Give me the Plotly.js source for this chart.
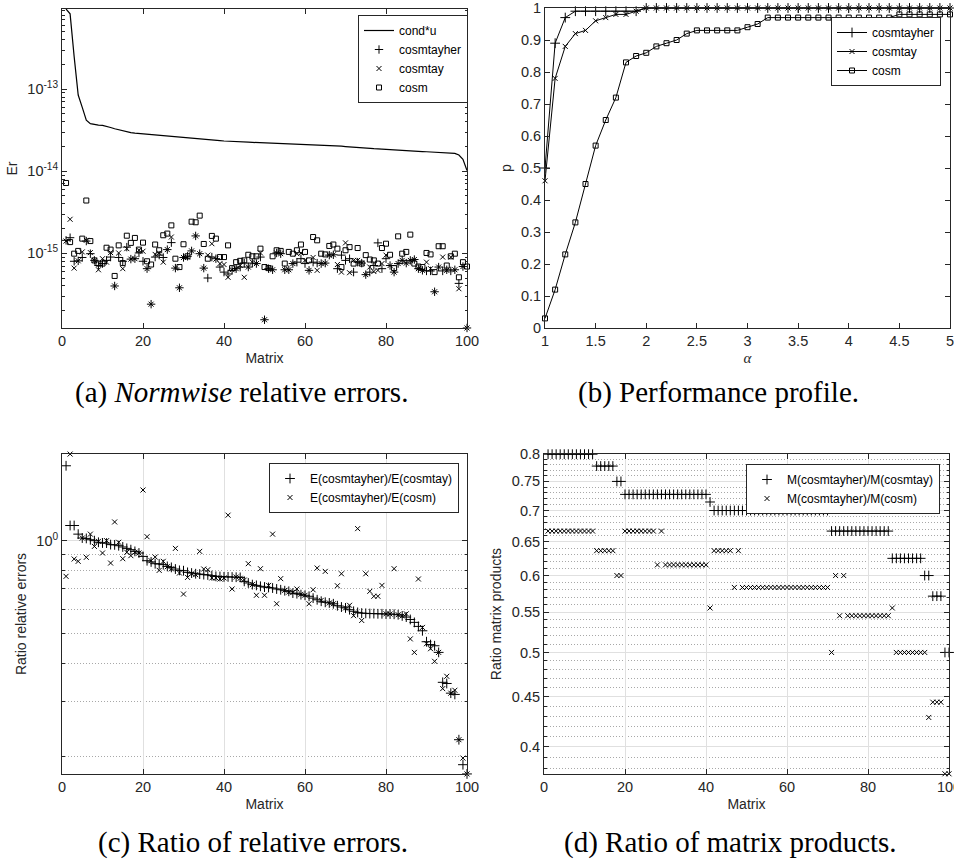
<!DOCTYPE html>
<html><head><meta charset="utf-8">
<script src="https://cdn.plot.ly/plotly-3.0.1.min.js"></script>
<style>html,body{margin:0;padding:0;background:#fff}#chart{width:954px;height:861px}</style>
</head><body><div id="chart"></div>
<script>
// ---------- DATA ----------
const matrixIndex = Array.from({length: 100}, (_, i) => i + 1);

// (a) Normwise relative errors
const condU = [9.5e-13,8.3e-13,2.5e-13,8.5e-14,6.0e-14,4.2e-14,3.8e-14,3.7e-14,3.66e-14,3.62e-14,
3.55e-14,3.42e-14,3.3e-14,3.2e-14,3.1e-14,3.02e-14,2.96e-14,2.92e-14,2.89e-14,2.86e-14,
2.84e-14,2.81e-14,2.77e-14,2.72e-14,2.68e-14,2.65e-14,2.62e-14,2.6e-14,2.57e-14,2.55e-14,
2.53e-14,2.5e-14,2.48e-14,2.46e-14,2.44e-14,2.42e-14,2.4e-14,2.38e-14,2.36e-14,2.34e-14,
2.32e-14,2.31e-14,2.3e-14,2.29e-14,2.28e-14,2.26e-14,2.25e-14,2.24e-14,2.23e-14,2.22e-14,
2.21e-14,2.2e-14,2.19e-14,2.18e-14,2.17e-14,2.16e-14,2.15e-14,2.14e-14,2.13e-14,2.12e-14,
2.12e-14,2.11e-14,2.1e-14,2.1e-14,2.09e-14,2.08e-14,2.06e-14,2.04e-14,2.02e-14,2.0e-14,
1.99e-14,1.97e-14,1.95e-14,1.94e-14,1.92e-14,1.91e-14,1.89e-14,1.88e-14,1.86e-14,1.85e-14,
1.83e-14,1.82e-14,1.81e-14,1.8e-14,1.79e-14,1.77e-14,1.76e-14,1.75e-14,1.74e-14,1.73e-14,
1.72e-14,1.71e-14,1.7e-14,1.69e-14,1.68e-14,1.67e-14,1.65e-14,1.58e-14,1.4e-14,1.02e-14];

const errCosmtayher = [1.44e-15,1.55e-15,0.80e-15,0.81e-15,0.89e-15,1.41e-15,0.99e-15,0.82e-15,0.71e-15,0.75e-15,
0.82e-15,0.90e-15,0.40e-15,0.89e-15,0.80e-15,1.19e-15,0.85e-15,0.86e-15,1.01e-15,0.80e-15,
0.65e-15,0.24e-15,0.90e-15,0.95e-15,0.89e-15,1.11e-15,1.35e-15,0.66e-15,0.38e-15,0.89e-15,
0.92e-15,1.07e-15,1.63e-15,0.99e-15,0.66e-15,0.50e-15,0.90e-15,0.86e-15,0.68e-15,0.59e-15,
0.56e-15,0.62e-15,0.65e-15,0.68e-15,0.76e-15,0.68e-15,0.76e-15,0.75e-15,0.90e-15,0.155e-15,
0.65e-15,0.63e-15,1.01e-15,0.99e-15,0.63e-15,0.63e-15,0.75e-15,0.78e-15,0.86e-15,0.75e-15,
0.62e-15,0.78e-15,0.76e-15,0.75e-15,0.76e-15,0.95e-15,0.96e-15,0.65e-15,0.95e-15,0.82e-15,
0.86e-15,0.59e-15,0.78e-15,0.76e-15,0.55e-15,0.59e-15,0.71e-15,1.34e-15,0.65e-15,0.86e-15,
0.71e-15,0.59e-15,0.75e-15,0.82e-15,0.76e-15,0.82e-15,0.84e-15,0.65e-15,0.62e-15,0.61e-15,
0.61e-15,0.34e-15,0.68e-15,0.61e-15,0.63e-15,0.61e-15,0.63e-15,0.43e-15,0.69e-15,0.123e-15];

const errCosmtay = [1.41e-15,2.6e-15,0.66e-15,0.81e-15,1.04e-15,1.44e-15,1.02e-15,0.82e-15,0.63e-15,0.86e-15,
0.78e-15,1.02e-15,0.40e-15,1.01e-15,0.65e-15,1.14e-15,0.85e-15,0.86e-15,1.09e-15,1.06e-15,
0.65e-15,0.24e-15,0.97e-15,1.01e-15,0.78e-15,1.11e-15,1.58e-15,0.66e-15,0.38e-15,0.89e-15,
0.90e-15,1.07e-15,1.63e-15,0.99e-15,0.66e-15,0.95e-15,1.31e-15,0.85e-15,0.75e-15,0.73e-15,
0.51e-15,0.63e-15,0.65e-15,0.71e-15,0.51e-15,0.68e-15,0.78e-15,0.75e-15,1.01e-15,0.155e-15,
0.66e-15,0.63e-15,1.01e-15,0.99e-15,0.63e-15,0.63e-15,0.75e-15,0.99e-15,1.01e-15,0.82e-15,
0.62e-15,0.89e-15,0.62e-15,0.75e-15,0.76e-15,0.95e-15,0.96e-15,0.73e-15,0.59e-15,1.34e-15,
0.58e-15,0.82e-15,0.82e-15,0.76e-15,0.55e-15,0.68e-15,0.60e-15,0.62e-15,0.75e-15,0.95e-15,
0.71e-15,0.59e-15,0.75e-15,0.82e-15,0.76e-15,0.82e-15,0.84e-15,0.65e-15,0.62e-15,0.78e-15,
0.65e-15,0.34e-15,0.68e-15,0.90e-15,0.62e-15,0.90e-15,0.63e-15,0.37e-15,0.69e-15,0.123e-15];

const errCosm = [7.2e-15,1.37e-15,0.99e-15,1.07e-15,1.51e-15,4.4e-15,1.41e-15,0.82e-15,0.75e-15,0.75e-15,
1.17e-15,1.11e-15,0.53e-15,1.25e-15,0.76e-15,1.64e-15,1.34e-15,1.54e-15,1.11e-15,1.35e-15,
0.80e-15,0.73e-15,1.28e-15,1.09e-15,1.66e-15,1.74e-15,2.19e-15,0.86e-15,0.68e-15,1.29e-15,
0.92e-15,2.43e-15,2.39e-15,2.88e-15,1.30e-15,0.86e-15,1.63e-15,1.51e-15,0.90e-15,0.90e-15,
1.25e-15,0.66e-15,0.78e-15,0.81e-15,0.82e-15,0.96e-15,0.92e-15,0.92e-15,1.14e-15,0.68e-15,
0.66e-15,0.92e-15,1.09e-15,1.07e-15,0.75e-15,1.04e-15,0.99e-15,1.09e-15,1.28e-15,1.04e-15,
0.82e-15,1.58e-15,1.44e-15,0.99e-15,0.97e-15,1.23e-15,1.28e-15,1.14e-15,0.68e-15,1.09e-15,
1.19e-15,0.75e-15,1.16e-15,0.75e-15,0.95e-15,0.84e-15,0.82e-15,0.75e-15,1.16e-15,1.31e-15,
0.96e-15,0.66e-15,1.61e-15,0.99e-15,1.04e-15,1.69e-15,0.75e-15,0.69e-15,0.68e-15,1.01e-15,
0.97e-15,0.59e-15,1.22e-15,1.22e-15,0.71e-15,0.92e-15,0.99e-15,0.51e-15,0.78e-15,0.69e-15];

// (b) Performance profile
const alphaVals = [1.0,1.1,1.2,1.3,1.4,1.5,1.6,1.7,1.8,1.9,2.0,2.1,2.2,2.3,2.4,2.5,2.6,2.7,2.8,2.9,
3.0,3.1,3.2,3.3,3.4,3.5,3.6,3.7,3.8,3.9,4.0,4.1,4.2,4.3,4.4,4.5,4.6,4.7,4.8,4.9,5.0];
const pCosmtayher = [0.50,0.89,0.97,0.99,0.99,0.99,0.99,0.99,0.99,0.99,1,1,1,1,1,1,1,1,1,1,
1,1,1,1,1,1,1,1,1,1,1,1,1,1,1,1,1,1,1,1,1];
const pCosmtay = [0.46,0.78,0.88,0.92,0.93,0.96,0.97,0.98,0.98,0.99,1,1,1,1,1,1,1,1,1,1,
1,1,1,1,1,1,1,1,1,1,1,1,1,1,1,1,1,1,1,1,1];
const pCosm = [0.03,0.12,0.23,0.33,0.45,0.57,0.65,0.72,0.83,0.85,0.86,0.88,0.89,0.90,0.92,0.93,0.93,0.93,0.93,0.93,
0.94,0.95,0.97,0.97,0.97,0.97,0.97,0.97,0.97,0.97,0.97,0.97,0.97,0.97,0.97,0.98,0.98,0.98,0.98,0.98,0.98];

// (c) Ratio of relative errors
const ratioErrTay = [1.75,1.12,1.12,1.05,1.02,1.017,1.007,1.0,0.988,0.983,
0.982,0.971,0.969,0.963,0.954,0.944,0.935,0.923,0.912,0.889,
0.861,0.853,0.842,0.840,0.836,0.825,0.819,0.809,0.801,0.799,
0.789,0.785,0.781,0.779,0.776,0.774,0.770,0.766,0.765,0.763,
0.763,0.762,0.761,0.760,0.738,0.729,0.720,0.716,0.711,0.707,
0.705,0.702,0.697,0.693,0.688,0.685,0.676,0.673,0.668,0.665,
0.660,0.651,0.643,0.636,0.631,0.628,0.624,0.615,0.609,0.605,
0.597,0.590,0.585,0.582,0.581,0.580,0.580,0.579,0.579,0.578,
0.578,0.577,0.575,0.570,0.565,0.555,0.543,0.527,0.510,0.470,
0.460,0.456,0.434,0.347,0.344,0.320,0.317,0.226,0.1875,0.175];
const ratioErrCosm = [0.766,1.91,0.872,0.857,1.02,0.883,1.05,0.958,0.995,0.912,
1.0,0.846,1.15,0.988,0.874,0.917,0.894,0.917,0.912,1.46,
1.03,0.861,0.885,0.801,0.857,0.823,0.81,0.944,0.785,0.671,
0.760,0.781,0.776,0.923,0.809,0.805,0.757,0.757,0.751,0.757,
1.21,0.697,0.762,0.755,0.745,0.842,0.72,0.665,0.811,0.665,
0.716,1.05,0.624,0.753,0.69,0.681,0.68,0.697,0.67,0.665,
0.624,0.693,0.815,0.64,0.795,0.628,0.624,0.714,0.781,0.605,
0.617,0.571,1.094,0.551,0.781,0.685,0.660,0.660,0.716,0.579,
0.578,0.811,0.575,0.57,0.579,0.480,0.434,0.751,0.523,0.463,
0.446,0.406,0.434,0.331,0.363,0.320,0.327,0.226,0.197,0.175];

// (d) Ratio of matrix products
const ratioMTay = [0.8,0.8,0.8,0.8,0.8,0.8,0.8,0.8,0.8,0.8,0.8,0.8,
0.7778,0.7778,0.7778,0.7778,0.7778,0.75,0.75,
0.7273,0.7273,0.7273,0.7273,0.7273,0.7273,0.7273,0.7273,0.7273,0.7273,0.7273,0.7273,0.7273,0.7273,0.7273,0.7273,0.7273,0.7273,0.7273,0.7273,0.7273,
0.7143,
0.7,0.7,0.7,0.7,0.7,0.7,0.7,0.7,0.7,0.7,0.7,0.7,0.7,0.7,0.7,0.7,0.7,0.7,0.7,0.7,0.7,0.7,0.7,0.7,0.7,0.7,0.7,0.7,0.7,
0.6667,0.6667,0.6667,0.6667,0.6667,0.6667,0.6667,0.6667,0.6667,0.6667,0.6667,0.6667,0.6667,0.6667,0.6667,
0.625,0.625,0.625,0.625,0.625,0.625,0.625,0.625,
0.6,0.6,0.5714,0.5714,0.5714,0.5,0.5];
const ratioMCosm = [0.6667,0.6667,0.6667,0.6667,0.6667,0.6667,0.6667,0.6667,0.6667,0.6667,0.6667,0.6667,
0.6364,0.6364,0.6364,0.6364,0.6364,0.6,0.6,
0.6667,0.6667,0.6667,0.6667,0.6667,0.6667,0.6667,0.6667,0.6154,0.6667,
0.6154,0.6154,0.6154,0.6154,0.6154,0.6154,0.6154,0.6154,0.6154,0.6154,0.6154,
0.5556,0.6364,0.6364,0.6364,0.6364,0.6364,0.5833,0.6364,
0.5833,0.5833,0.5833,0.5833,0.5833,0.5833,0.5833,0.5833,0.5833,0.5833,0.5833,0.5833,0.5833,0.5833,0.5833,0.5833,0.5833,0.5833,0.5833,0.5833,0.5833,0.5833,
0.5,0.6,0.5455,0.6,
0.5455,0.5455,0.5455,0.5455,0.5455,0.5455,0.5455,0.5455,0.5455,0.5455,0.5455,
0.5556,0.5,0.5,0.5,0.5,0.5,0.5,0.5,0.5,
0.4286,0.4444,0.4444,0.4444,0.375,0.375];

// ---------- STYLE ----------
const W = 954, H = 861;
const px2x = p => p / W;
const py2y = p => 1 - p / H;
const SANS = 'Liberation Sans, Arial, Helvetica, sans-serif';
const SERIF = 'Liberation Serif, Times New Roman, serif';
const AX = '#262626';
const tickFont = {family: SANS, size: 14.5, color: AX};
const titleFont = {family: SANS, size: 14, color: AX};
const EPS = 2e-4;

function baseAxis(extra) {
  return Object.assign({
    showline: true, linecolor: AX, linewidth: 1, mirror: 'ticks',
    ticks: 'inside', ticklen: 5, tickcolor: AX, tickwidth: 1,
    tickfont: tickFont, zeroline: false, showgrid: false, fixedrange: true,
    ticklabeloverflow: 'allow'
  }, extra);
}
function logMinor(lo, hi) {
  const out = [];
  for (let e = lo; e <= hi; e++) for (let m = 2; m <= 9; m++) out.push(m * Math.pow(10, e));
  return out;
}
function logRange(vals) {
  return [Math.log10(Math.min(...vals)) - EPS, Math.log10(Math.max(...vals)) + EPS];
}

const plusM = (sz) => ({symbol: 'cross-thin', size: sz, color: '#000', line: {width: 1, color: '#000'}});
const xM = (sz) => ({symbol: 'x-thin', size: sz, color: '#000', line: {width: 1, color: '#000'}});
const sqM = (sz) => ({symbol: 'square-open', size: sz, color: '#000', line: {width: 1, color: '#000'}});

const traces = [
  // (a)
  {x: matrixIndex, y: condU, type: 'scatter', mode: 'lines', name: 'cond*u', line: {color: '#000', width: 1.2},
   xaxis: 'x', yaxis: 'y', legend: 'legend', cliponaxis: false},
  {x: matrixIndex, y: errCosmtayher, type: 'scatter', mode: 'markers', name: 'cosmtayher', marker: plusM(6),
   xaxis: 'x', yaxis: 'y', legend: 'legend', cliponaxis: false},
  {x: matrixIndex, y: errCosmtay, type: 'scatter', mode: 'markers', name: 'cosmtay', marker: xM(5),
   xaxis: 'x', yaxis: 'y', legend: 'legend', cliponaxis: false},
  {x: matrixIndex, y: errCosm, type: 'scatter', mode: 'markers', name: 'cosm', marker: sqM(5),
   xaxis: 'x', yaxis: 'y', legend: 'legend', cliponaxis: false},
  // (b)
  {x: alphaVals, y: pCosmtayher, type: 'scatter', mode: 'lines+markers', name: 'cosmtayher',
   line: {color: '#000', width: 1}, marker: plusM(7), xaxis: 'x2', yaxis: 'y2', legend: 'legend2', cliponaxis: false},
  {x: alphaVals, y: pCosmtay, type: 'scatter', mode: 'lines+markers', name: 'cosmtay',
   line: {color: '#000', width: 1}, marker: xM(5), xaxis: 'x2', yaxis: 'y2', legend: 'legend2', cliponaxis: false},
  {x: alphaVals, y: pCosm, type: 'scatter', mode: 'lines+markers', name: 'cosm',
   line: {color: '#000', width: 1}, marker: sqM(5), xaxis: 'x2', yaxis: 'y2', legend: 'legend2', cliponaxis: false},
  // (c)
  {x: matrixIndex, y: ratioErrTay, type: 'scatter', mode: 'markers', name: 'E(cosmtayher)/E(cosmtay)',
   marker: plusM(7), xaxis: 'x3', yaxis: 'y3', legend: 'legend3', cliponaxis: false},
  {x: matrixIndex, y: ratioErrCosm, type: 'scatter', mode: 'markers', name: 'E(cosmtayher)/E(cosm)',
   marker: xM(5), xaxis: 'x3', yaxis: 'y3', legend: 'legend3', cliponaxis: false},
  // (d)
  {x: matrixIndex, y: ratioMTay, type: 'scatter', mode: 'markers', name: 'M(cosmtayher)/M(cosmtay)',
   marker: plusM(7), xaxis: 'x4', yaxis: 'y4', legend: 'legend4', cliponaxis: false},
  {x: matrixIndex, y: ratioMCosm, type: 'scatter', mode: 'markers', name: 'M(cosmtayher)/M(cosm)',
   marker: xM(5), xaxis: 'x4', yaxis: 'y4', legend: 'legend4', cliponaxis: false}
];

function legendBox(rightPx, topPx) {
  return {x: px2x(rightPx), y: py2y(topPx), xanchor: 'right', yanchor: 'top',
    bgcolor: '#ffffff', bordercolor: AX, borderwidth: 1,
    font: {family: SANS, size: 12, color: '#000'}, itemwidth: 30, tracegroupgap: 0};
}

const minorC = [0.2,0.3,0.4,0.5,0.6,0.7,0.8,0.9];
const majorD = [0.4,0.45,0.5,0.55,0.6,0.65,0.7,0.75,0.8];
const minorD = [];
for (let k = 38; k <= 79; k++) { if (k % 5 !== 0) minorD.push(k / 100); }

const domA = {x: [px2x(62), px2x(467)], y: [py2y(328), py2y(9)]};
const domB = {x: [px2x(545), px2x(950)], y: [py2y(328), py2y(8)]};
const domC = {x: [px2x(62), px2x(467)], y: [py2y(774), py2y(454)]};
const domD = {x: [px2x(544), px2x(949)], y: [py2y(774), py2y(454)]};

const rangeA = [Math.log10(Math.min(...errCosmtayher, ...errCosmtay, ...errCosm)) - EPS,
                Math.log10(Math.max(...condU)) + EPS];

const dotGrid = {showgrid: true, gridcolor: '#a8a8a8', gridwidth: 1, griddash: '1px,2px'};

const layout = {
  width: W, height: H, margin: {l: 0, r: 0, t: 0, b: 0},
  paper_bgcolor: '#fff', plot_bgcolor: '#fff',
  font: {family: SANS, color: AX},
  legend: legendBox(468, 15),
  legend2: legendBox(941, 17),
  legend3: legendBox(459, 463),
  legend4: legendBox(940, 464),
  xaxis: baseAxis({domain: domA.x, anchor: 'y', range: [0, 100], tickmode: 'linear', tick0: 0, dtick: 20,
    title: {text: 'Matrix', font: titleFont, standoff: 4}}),
  yaxis: baseAxis({domain: domA.y, anchor: 'x', type: 'log', range: rangeA,
    tickmode: 'array', tickvals: [1e-15, 1e-14, 1e-13],
    ticktext: ['10<sup>-15</sup>', '10<sup>-14</sup>', '10<sup>-13</sup>'],
    minor: {tickmode: 'array', tickvals: logMinor(-16, -13), ticks: 'inside', ticklen: 2.5, tickcolor: AX, showgrid: false},
    title: {text: 'Er', font: titleFont, standoff: 6}}),
  xaxis2: baseAxis({domain: domB.x, anchor: 'y2', range: [1, 5], tickmode: 'linear', tick0: 1, dtick: 0.5,
    title: {text: '<i>α</i>', font: {family: SERIF, size: 15, color: AX}, standoff: 4}}),
  yaxis2: baseAxis({domain: domB.y, anchor: 'x2', range: [0, 1], tickmode: 'linear', tick0: 0, dtick: 0.1,
    title: {text: 'p', font: titleFont, standoff: 6}}),
  xaxis3: baseAxis({domain: domC.x, anchor: 'y3', range: [0, 100], tickmode: 'linear', tick0: 0, dtick: 20,
    showgrid: true, gridcolor: '#e0e0e0', gridwidth: 1,
    title: {text: 'Matrix', font: titleFont, standoff: 4}}),
  yaxis3: baseAxis({domain: domC.y, anchor: 'x3', type: 'log',
    range: logRange([...ratioErrTay, ...ratioErrCosm]),
    tickmode: 'array', tickvals: [1], ticktext: ['10<sup>0</sup>'],
    showgrid: true, gridcolor: '#e0e0e0', gridwidth: 1,
    minor: Object.assign({tickmode: 'array', tickvals: minorC, ticks: 'inside', ticklen: 2.5, tickcolor: AX}, dotGrid),
    title: {text: 'Ratio relative errors', font: titleFont, standoff: 6}}),
  xaxis4: baseAxis({domain: domD.x, anchor: 'y4', range: [0, 100], tickmode: 'linear', tick0: 0, dtick: 20,
    showgrid: true, gridcolor: '#e0e0e0', gridwidth: 1,
    title: {text: 'Matrix', font: titleFont, standoff: 4}}),
  yaxis4: baseAxis({domain: domD.y, anchor: 'x4', type: 'log',
    range: logRange([...ratioMTay, ...ratioMCosm]),
    tickmode: 'array', tickvals: majorD, ticktext: majorD.map(String),
    showgrid: true, gridcolor: '#e0e0e0', gridwidth: 1,
    minor: Object.assign({tickmode: 'array', tickvals: minorD, ticks: 'inside', ticklen: 2.5, tickcolor: AX}, dotGrid),
    title: {text: 'Ratio matrix products', font: titleFont, standoff: 6}}),
  annotations: [
    {text: '(a) <i>Normwise</i> relative errors.', x: px2x(241), y: py2y(392)},
    {text: '(b) Performance profile.', x: px2x(718), y: py2y(392)},
    {text: '(c) Ratio of relative errors.', x: px2x(253), y: py2y(842)},
    {text: '(d) Ratio of matrix products.', x: px2x(730), y: py2y(842)}
  ].map(a => Object.assign(a, {xref: 'paper', yref: 'paper', xanchor: 'center', yanchor: 'middle',
    showarrow: false, font: {family: SERIF, size: 29, color: '#000'}}))
};

Plotly.newPlot('chart', traces, layout, {displayModeBar: false, staticPlot: true});
</script></body></html>
